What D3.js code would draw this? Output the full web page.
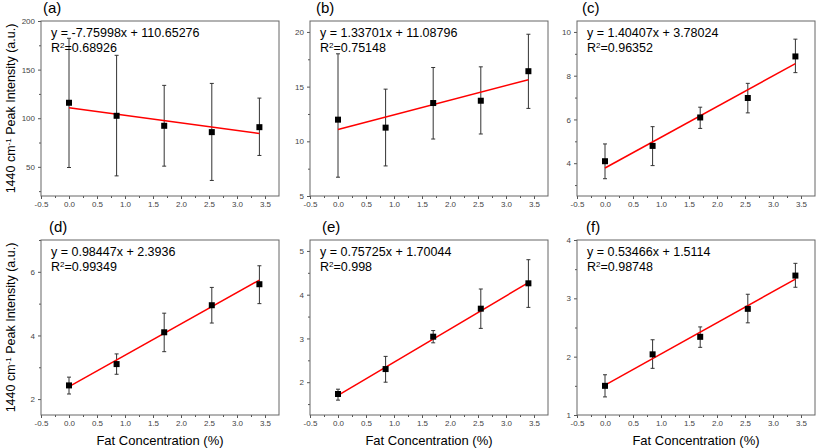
<!DOCTYPE html>
<html><head><meta charset="utf-8">
<script src="https://cdn.jsdelivr.net/npm/d3@7"></script>
<style>
body{margin:0;background:#fff}
svg{display:block}
text{font-family:"Liberation Sans",Arial,sans-serif}
</style>
</head><body>
<svg id="chart" width="817" height="448"></svg>
<script>
// ---------------- data ----------------
const fatConcentration = [0, 0.85, 1.7, 2.55, 3.4];
const panelLabels = ["(a)", "(b)", "(c)", "(d)", "(e)", "(f)"];

const intensityA = [115.9, 102.5, 92.2, 85.7, 90.8];
const lowA  = [49.3, 40.7, 50.7, 36.0, 61.7];
const highA = [182.2, 164.7, 133.8, 135.8, 120.7];

const intensityB = [11.98, 11.25, 13.5, 13.71, 16.41];
const lowB  = [6.72, 7.75, 10.21, 10.67, 13.01];
const highB = [18.0, 14.77, 16.75, 16.81, 19.79];

const intensityC = [4.09, 4.79, 6.09, 6.98, 8.88];
const lowC  = [3.29, 3.89, 5.59, 6.30, 8.14];
const highC = [4.88, 5.67, 6.56, 7.65, 9.67];

const intensityD = [2.43, 3.10, 4.10, 4.95, 5.61];
const lowD  = [2.16, 2.78, 3.49, 4.39, 5.00];
const highD = [2.69, 3.42, 4.70, 5.51, 6.19];

const intensityE = [1.73, 2.30, 3.04, 3.68, 4.26];
const lowE  = [1.59, 2.00, 2.90, 3.23, 3.71];
const highE = [1.84, 2.59, 3.18, 4.13, 4.80];

const intensityF = [1.50, 2.04, 2.34, 2.82, 3.39];
const lowF  = [1.31, 1.80, 2.16, 2.58, 3.19];
const highF = [1.69, 2.29, 2.51, 3.07, 3.60];

const slopes     = [-7.75998, 1.33701, 1.40407, 0.98447, 0.75725, 0.53466];
const intercepts = [110.65276, 11.08796, 3.78024, 2.3936, 1.70044, 1.5114];
const r2Values   = ["0.68926", "0.75148", "0.96352", "0.99349", "0.998", "0.98748"];

const yRanges = [[20, 200], [5, 21], [2.5, 10.5], [1.5, 7], [1.25, 5.25], [1, 4]];
const yTickValues = [[50, 100, 150, 200], [5, 10, 15, 20], [4, 6, 8, 10], [2, 4, 6], [2, 3, 4, 5], [1, 2, 3, 4]];
const xRange = [-0.5, 3.75];
const xTickValues = [-0.5, 0, 0.5, 1, 1.5, 2, 2.5, 3, 3.5];

const yAxisTitle = "1440 cm";
const yAxisSup = "-1";
const yAxisTitleRest = " Peak Intensity (a.u.)";
const xAxisTitle = "Fat Concentration (%)";

// ---------------- layout ----------------
const means = [intensityA, intensityB, intensityC, intensityD, intensityE, intensityF];
const lows  = [lowA, lowB, lowC, lowD, lowE, lowF];
const highs = [highA, highB, highC, highD, highE, highF];

const colLeft = [41, 310, 577];
const rowTop = [21, 240];
const W = 238, H = 175;
const labelOffset = [2, 6, 5, 8, 12, 9];

const svg = d3.select("#chart");

for (let i = 0; i < 6; i++) {
  const col = i % 3, row = Math.floor(i / 3);
  const left = colLeft[col], top = rowTop[row];
  const g = svg.append("g").attr("transform", `translate(${left},${top})`);

  const x = d3.scaleLinear().domain(xRange).range([0, W]);
  const y = d3.scaleLinear().domain(yRanges[i]).range([H, 0]);

  // x axis ticks
  const xMinor = xTickValues.slice(0, -1).map(v => v + 0.25);
  const xa = g.append("g").attr("transform", `translate(0,${H})`)
    .call(d3.axisBottom(x).tickValues(xTickValues).tickSize(3).tickPadding(2)
      .tickFormat(d => d.toFixed(1)));
  const xm = g.append("g").attr("transform", `translate(0,${H})`)
    .call(d3.axisBottom(x).tickValues(xMinor).tickSize(2).tickFormat(""));

  // y axis ticks
  const yt = yTickValues[i];
  const step = yt[1] - yt[0];
  const yMinor = [];
  for (let v = yt[0] - step / 2; v <= yRanges[i][1]; v += step) {
    if (v >= yRanges[i][0] && !yt.includes(v)) yMinor.push(v);
  }
  const ya = g.append("g")
    .call(d3.axisLeft(y).tickValues(yt).tickSize(3).tickPadding(3).tickFormat(d => String(d)));
  const ym = g.append("g")
    .call(d3.axisLeft(y).tickValues(yMinor).tickSize(2).tickFormat(""));

  [xa, xm, ya, ym].forEach(a => {
    a.select(".domain").remove();
    a.selectAll(".tick line").attr("stroke", "#555");
    a.selectAll(".tick text").attr("fill", "#444").style("font-size", "8px");
  });

  // frame
  g.append("rect").attr("x", 0).attr("y", 0).attr("width", W).attr("height", H)
    .attr("fill", "none").attr("stroke", "#666").attr("stroke-width", 1);

  // error bars
  const eb = g.append("g").attr("stroke", "#333").attr("stroke-width", 1);
  fatConcentration.forEach((fx, k) => {
    const cx = x(fx);
    eb.append("line").attr("x1", cx).attr("x2", cx).attr("y1", y(lows[i][k])).attr("y2", y(highs[i][k]));
    eb.append("line").attr("x1", cx - 2).attr("x2", cx + 2).attr("y1", y(lows[i][k])).attr("y2", y(lows[i][k]));
    eb.append("line").attr("x1", cx - 2).attr("x2", cx + 2).attr("y1", y(highs[i][k])).attr("y2", y(highs[i][k]));
  });

  // fit line
  const x0 = fatConcentration[0], x1 = fatConcentration[fatConcentration.length - 1];
  g.append("line")
    .attr("x1", x(x0)).attr("y1", y(slopes[i] * x0 + intercepts[i]))
    .attr("x2", x(x1)).attr("y2", y(slopes[i] * x1 + intercepts[i]))
    .attr("stroke", "#ff0000").attr("stroke-width", 1.5);

  // markers
  g.append("g").selectAll("rect").data(fatConcentration).join("rect")
    .attr("x", (d) => x(d) - 3).attr("y", (d, k) => y(means[i][k]) - 3)
    .attr("width", 6).attr("height", 6).attr("fill", "#000");

  // equation
  const eq = g.append("text").attr("x", 10).attr("y", 16).style("font-size", "12.5px").attr("fill", "#000");
  eq.text(`y = ${slopes[i]}x + ${intercepts[i]}`);
  const r2 = g.append("text").attr("x", 10).attr("y", 31).style("font-size", "12.5px").attr("fill", "#000");
  r2.append("tspan").text("R");
  r2.append("tspan").attr("dy", -4).style("font-size", "8px").text("2");
  r2.append("tspan").attr("dy", 4).text("=" + r2Values[i]);

  // panel label
  svg.append("text").attr("x", left + labelOffset[i]).attr("y", top - 8)
    .style("font-size", "15px").attr("fill", "#000").text(panelLabels[i]);

  // y-axis title for left column
  if (col === 0) {
    const t = svg.append("text")
      .attr("transform", `translate(15,${top + H / 2}) rotate(-90)`)
      .attr("text-anchor", "middle").style("font-size", "12.5px").attr("fill", "#000");
    t.append("tspan").text(yAxisTitle);
    t.append("tspan").attr("dy", -4).style("font-size", "8px").text(yAxisSup);
    t.append("tspan").attr("dy", 4).text(yAxisTitleRest);
  }
  // x-axis title on bottom row
  if (row === 1) {
    svg.append("text").attr("x", left + W / 2).attr("y", 445)
      .attr("text-anchor", "middle").style("font-size", "13px").attr("fill", "#000")
      .text(xAxisTitle);
  }
}
</script>
</body></html>
